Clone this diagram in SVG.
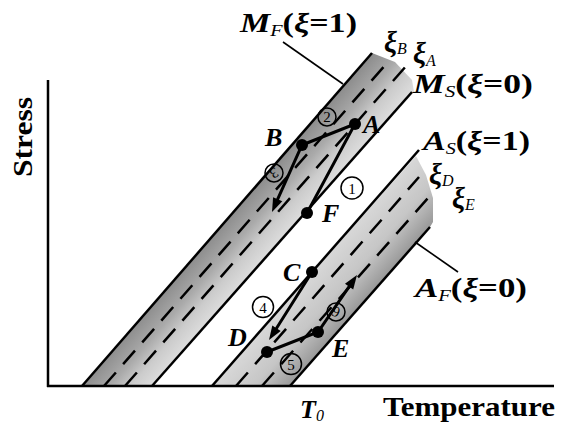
<svg xmlns="http://www.w3.org/2000/svg" width="561" height="430" viewBox="0 0 561 430">
<defs>
<linearGradient id="gM" gradientUnits="userSpaceOnUse" x1="82" y1="386" x2="121.5" y2="420.7">
<stop offset="0" stop-color="#8e8e8e"/><stop offset="0.4" stop-color="#aaaaaa"/><stop offset="0.7" stop-color="#cccccc"/><stop offset="1" stop-color="#dcdcdc"/>
</linearGradient>
<linearGradient id="gA" gradientUnits="userSpaceOnUse" x1="212" y1="386" x2="256" y2="424.6">
<stop offset="0" stop-color="#d8d8d8"/><stop offset="0.55" stop-color="#c6c6c6"/><stop offset="1" stop-color="#999999"/>
</linearGradient>
</defs>
<style>
.ax{stroke:#000;stroke-width:2.5;fill:none}
.ln{stroke:#000;stroke-width:2.5;fill:none}
.dash{stroke:#000;stroke-width:2.5;stroke-dasharray:18 11;fill:none}
.pth{stroke:#000;stroke-width:3;fill:none;stroke-linecap:round}
.lead{stroke:#000;stroke-width:1.6}
.dot{fill:#000}
.head{fill:#000}
.lbl{font-family:"Liberation Serif",serif;font-style:italic;font-weight:bold;font-size:26px}
.xi{font-family:"Liberation Serif",serif;font-style:italic;font-weight:bold;font-size:29px}
.big{font-family:"Liberation Serif",serif;font-size:27px;font-weight:bold}
.it{font-style:italic}
.sub{font-size:16px;font-style:italic;font-weight:normal}
.axt{font-family:"Liberation Serif",serif;font-weight:bold;font-size:28px}
.num circle{fill:none;stroke:#000;stroke-width:1.5}
.num text{font-family:"Liberation Serif",serif;font-size:15px;text-anchor:middle}
</style>
<rect width="561" height="430" fill="#fff"/>

<g id="bands">
<polygon points="82,386 372,53 395,62 412,80 414,92 152,386" fill="url(#gM)"/>
<polygon points="212,386 416,156 426,175 433,198 433,222 430,227 290,386" fill="url(#gA)"/>
</g>

<g id="axes">
<line class="ax" x1="48" y1="80" x2="48" y2="387"/>
<line class="ax" x1="47" y1="386" x2="554" y2="386"/>
<text class="axt" transform="translate(32,177) rotate(-90)" textLength="80" lengthAdjust="spacingAndGlyphs">Stress</text>
<text class="axt" x="383" y="416" textLength="172" lengthAdjust="spacingAndGlyphs">Temperature</text>
<text class="lbl" x="300" y="418" font-size="24">T<tspan class="sub" dy="3">0</tspan></text>
</g>

<g id="martensite-lines">
<line class="ln" x1="82" y1="386" x2="372" y2="53"/>
<line class="dash" x1="104" y1="386" x2="387" y2="63"/>
<line class="dash" x1="125" y1="386" x2="407" y2="65"/>
<line class="ln" x1="152" y1="386" x2="412" y2="92"/>
</g>
<g id="austenite-lines">
<line class="ln" x1="212" y1="386" x2="419" y2="150"/>
<line class="dash" x1="236" y1="386" x2="419" y2="177"/>
<line class="dash" x1="262" y1="386" x2="428" y2="198"/>
<line class="ln" x1="290" y1="386" x2="430" y2="227"/>
</g>

<g id="connectors">
<line class="lead" x1="283" y1="42" x2="343" y2="84"/>
<line class="lead" x1="415" y1="242" x2="458" y2="272"/>
<polyline class="pth" points="307,213 355,124 302,145 277.7,199.2"/>
<polygon class="head" points="272,212 282.3,201.2 273.1,197.2"/>
<line class="pth" x1="312" y1="272" x2="276.5" y2="328.2"/>
<polygon class="head" points="269,340 280.7,330.9 272.3,325.5"/>
<polyline class="pth" points="267,352 318,332 349.1,286.6"/>
<polygon class="head" points="357,275 353.2,289.4 345,283.8"/>
</g>

<g id="points">
<circle class="dot" cx="355" cy="124" r="6"/>
<circle class="dot" cx="302" cy="145" r="6"/>
<circle class="dot" cx="307" cy="213" r="6"/>
<circle class="dot" cx="312" cy="272" r="6"/>
<circle class="dot" cx="267" cy="352" r="6"/>
<circle class="dot" cx="318" cy="332" r="6"/>
<text class="lbl" x="363" y="133">A</text>
<text class="lbl" x="265" y="146">B</text>
<text class="lbl" x="322" y="222">F</text>
<text class="lbl" x="283" y="281">C</text>
<text class="lbl" x="228" y="346">D</text>
<text class="lbl" x="332" y="357">E</text>
</g>

<g id="steps">
<g class="num"><circle cx="352" cy="188" r="11"/><text x="352" y="193.5">1</text></g>
<g class="num"><circle cx="327" cy="117" r="9"/><text x="327" y="122">2</text></g>
<g class="num"><circle cx="274" cy="173" r="9"/><text x="274" y="178" transform="rotate(150 274 173)">3</text></g>
<g class="num"><circle cx="263" cy="307" r="10.5"/><text x="263" y="312.5">4</text></g>
<g class="num"><circle cx="291" cy="364" r="10.5"/><text x="291" y="369.5">5</text></g>
<g class="num"><circle cx="336" cy="312" r="9"/><text x="336" y="317" transform="rotate(200 336 312)">6</text></g>
</g>

<g id="labels">
<text class="big" x="240" y="32" textLength="117" lengthAdjust="spacingAndGlyphs"><tspan class="it">M</tspan><tspan class="sub" dy="4">F</tspan><tspan dy="-4">(</tspan><tspan class="it">ξ</tspan>=1)</text>
<text class="big" x="413" y="93" textLength="120" lengthAdjust="spacingAndGlyphs"><tspan class="it">M</tspan><tspan class="sub" dy="4">S</tspan><tspan dy="-4">(</tspan><tspan class="it">ξ</tspan>=0)</text>
<text class="big" x="423" y="150" textLength="107" lengthAdjust="spacingAndGlyphs"><tspan class="it">A</tspan><tspan class="sub" dy="4">S</tspan><tspan dy="-4">(</tspan><tspan class="it">ξ</tspan>=1)</text>
<text class="big" x="415" y="297" textLength="112" lengthAdjust="spacingAndGlyphs"><tspan class="it">A</tspan><tspan class="sub" dy="4">F</tspan><tspan dy="-4">(</tspan><tspan class="it">ξ</tspan>=0)</text>
<text class="xi" x="384" y="52">ξ<tspan class="sub" dy="2">B</tspan></text>
<text class="xi" x="413" y="63">ξ<tspan class="sub" dy="3">A</tspan></text>
<text class="xi" x="429" y="184">ξ<tspan class="sub" dy="2">D</tspan></text>
<text class="xi" x="452" y="208">ξ<tspan class="sub" dy="2">E</tspan></text>
</g>
</svg>
